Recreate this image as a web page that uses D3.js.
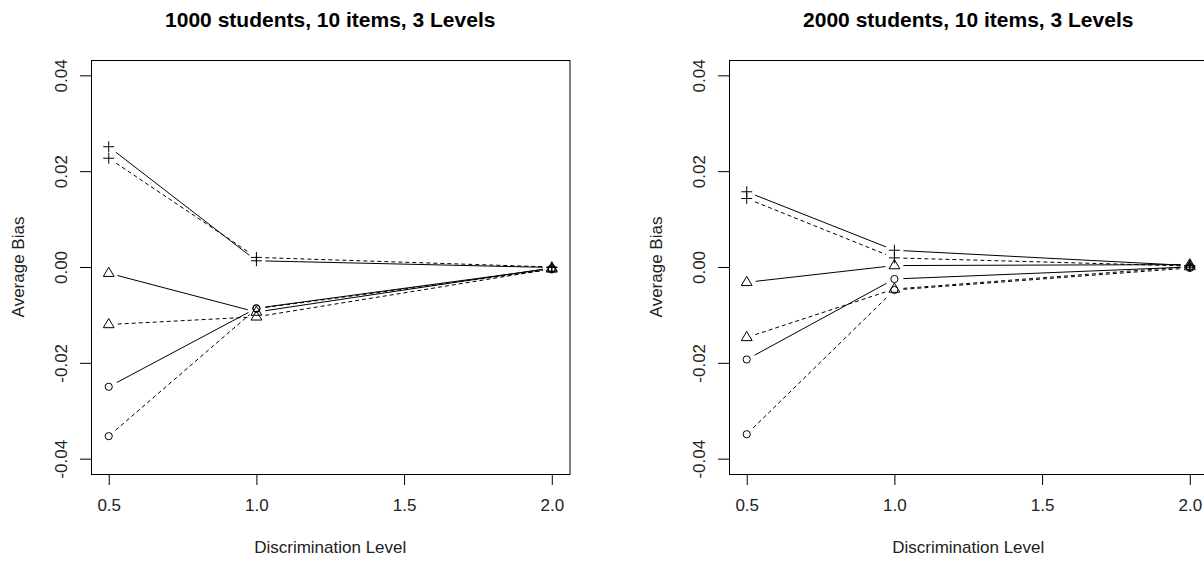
<!DOCTYPE html>
<html>
<head>
<meta charset="utf-8">
<script src="https://cdn.jsdelivr.net/npm/d3@7"></script>
<style>
  body { margin: 0; background: #fff; }
  text { font-family: "Liberation Sans", Arial, sans-serif; }
</style>
</head>
<body>
<script>
// discrimination levels on the x axis
const levels = [0.5, 1.0, 2.0]
const xTickValues = [0.5, 1.0, 1.5, 2.0]
const yTickValues = [-0.04, -0.02, 0.00, 0.02, 0.04]

const titles = ["1000 students, 10 items, 3 Levels", "2000 students, 10 items, 3 Levels"]

// average bias, 1000 students
const plusSolid1000 = [0.0251, 0.0013, -0.0001]
const plusDashed1000 = [0.0227, 0.0020, 0.0000]
const triSolid1000 = [-0.0013, -0.0094, -0.0002]
const triDashed1000 = [-0.0120, -0.0104, -0.0004]
const circSolid1000 = [-0.0250, -0.0086, -0.0003]
const circDashed1000 = [-0.0353, -0.0087, -0.0005]

// average bias, 2000 students
const plusSolid2000 = [0.0157, 0.0035, 0.0003]
const plusDashed2000 = [0.0143, 0.0019, 0.0002]
const triSolid2000 = [-0.0032, 0.0003, 0.0005]
const triDashed2000 = [-0.0147, -0.0046, 0.0001]
const circSolid2000 = [-0.0193, -0.0025, 0.0000]
const circDashed2000 = [-0.0349, -0.0048, -0.0002]

// shape / line type for each series (same order in both panels)
const seriesStyle = [
    { shape: "plus", dash: null },
    { shape: "plus", dash: "4,3" },
    { shape: "triangle", dash: null },
    { shape: "triangle", dash: "4,3" },
    { shape: "circle", dash: null },
    { shape: "circle", dash: "4,3" }
]

const panelData = [
    [plusSolid1000, plusDashed1000, triSolid1000, triDashed1000, circSolid1000, circDashed1000],
    [plusSolid2000, plusDashed2000, triSolid2000, triDashed2000, circSolid2000, circDashed2000]
]

var width = 1204,
    height = 562;

var svg = d3.select("body")
    .append("svg")
    .attr("width", width)
    .attr("height", height);

// plot box left edges, shared vertical extent
var boxLeft = [91, 729],
    boxWidth = 478.5,
    boxTop = 60,
    boxBottom = 474;

var gap = 9; // type="b" gap around the points

var y = d3.scaleLinear().domain([-0.0432, 0.0432]).range([boxBottom, boxTop]);

function marker(g, shape, cx, cy) {
    if (shape == "plus") {
        g.append("path")
            .attr("d", `M${cx - 5.5},${cy}H${cx + 5.5}M${cx},${cy - 5.5}V${cy + 5.5}`)
    } else if (shape == "triangle") {
        g.append("path")
            .attr("d", `M${cx},${cy - 6}L${cx + 5.4},${cy + 3.2}L${cx - 5.4},${cy + 3.2}Z`)
    } else {
        g.append("circle").attr("cx", cx).attr("cy", cy).attr("r", 3.6)
    }
}

panelData.forEach((series, p) => {
    var left = boxLeft[p];
    var x = d3.scaleLinear().domain([0.44, 2.06]).range([left, left + boxWidth]);

    var g = svg.append("g");

    // x axis
    var xAxis = g.append("g")
        .attr("transform", `translate(0,${boxBottom})`)
        .call(d3.axisBottom(x).tickValues(xTickValues).tickFormat(d => d.toFixed(1))
            .tickSize(11).tickSizeOuter(0).tickPadding(14));
    xAxis.select(".domain").remove();
    xAxis.selectAll("text").attr("font-size", 17).attr("fill", "#222")
        .style("font-family", "'Liberation Sans', Arial, sans-serif");

    // y axis, labels turned like R does
    var yAxis = g.append("g")
        .attr("transform", `translate(${left},0)`)
        .call(d3.axisLeft(y).tickValues(yTickValues).tickFormat(d => d.toFixed(2))
            .tickSize(11).tickSizeOuter(0));
    yAxis.select(".domain").remove();
    yAxis.selectAll("text")
        .attr("x", 0).attr("y", -24).attr("dy", null)
        .attr("text-anchor", "middle")
        .attr("transform", "rotate(-90)")
        .attr("font-size", 17).attr("fill", "#222")
        .style("font-family", "'Liberation Sans', Arial, sans-serif");

    // box
    g.append("rect")
        .attr("x", left + 0.5).attr("y", boxTop + 0.5)
        .attr("width", boxWidth).attr("height", boxBottom - boxTop)
        .attr("fill", "none").attr("stroke", "#000");

    // titles
    g.append("text")
        .attr("x", left + boxWidth / 2).attr("y", 27)
        .attr("text-anchor", "middle")
        .attr("font-size", 21).attr("font-weight", "bold")
        .text(titles[p]);

    g.append("text")
        .attr("x", left + boxWidth / 2).attr("y", 553)
        .attr("text-anchor", "middle")
        .attr("font-size", 17).attr("fill", "#222")
        .text("Discrimination Level");

    g.append("text")
        .attr("transform", `translate(${left - 67},${(boxTop + boxBottom) / 2}) rotate(-90)`)
        .attr("text-anchor", "middle")
        .attr("font-size", 17).attr("fill", "#222")
        .text("Average Bias");

    // series: lines with gaps, then points
    series.forEach((values, s) => {
        var style = seriesStyle[s];
        var pts = values.map((v, i) => [x(levels[i]), y(v)]);
        var lg = g.append("g")
            .attr("stroke", "#000").attr("fill", "none").attr("stroke-width", 1);

        for (var i = 0; i < pts.length - 1; i++) {
            var [x1, y1] = pts[i], [x2, y2] = pts[i + 1];
            var len = Math.hypot(x2 - x1, y2 - y1);
            var ux = (x2 - x1) / len, uy = (y2 - y1) / len;
            lg.append("line")
                .attr("x1", x1 + ux * gap).attr("y1", y1 + uy * gap)
                .attr("x2", x2 - ux * gap).attr("y2", y2 - uy * gap)
                .attr("stroke-dasharray", style.dash);
        }

        pts.forEach(([cx, cy]) => marker(lg, style.shape, cx, cy));
    });
});
</script>
</body>
</html>
